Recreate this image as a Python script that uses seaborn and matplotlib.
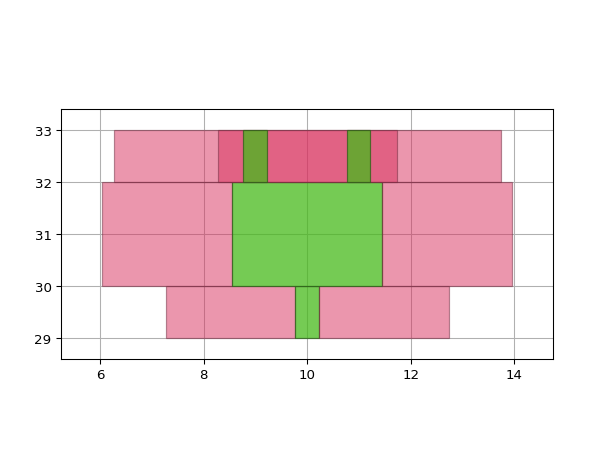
import numpy as np
import matplotlib
matplotlib.use("Agg")
import matplotlib.pyplot as plt
import seaborn as sns

# rectangles: left, width, bottom, height, kind
lefts = [7.27, 9.77, 10.23,
         6.05, 8.55, 11.45,
         6.27, 8.27, 8.77, 10.77]
widths = [2.5, 0.46, 2.5,
          2.5, 2.9, 2.5,
          7.46, 3.46, 0.45, 0.45]
bottoms = [29, 29, 29,
           30, 30, 30,
           32, 32, 32, 32]
heights = [1, 1, 1,
           2, 2, 2,
           1, 1, 1, 1]
kinds = ["pink", "green", "pink",
         "pink", "green", "pink",
         "pink", "pink", "green", "green"]

colors = {"pink": "#D92F5D", "green": "#47BA1B"}
edges = {"pink": "#6e2a3e", "green": "#2c5e18"}
alphas = {"pink": 0.5, "green": 0.75}

sns.set_style("white")
plt.rcParams["font.family"] = ["DejaVu Sans"]
plt.rcParams["xtick.direction"] = "out"
plt.rcParams["ytick.direction"] = "out"

fig = plt.figure(figsize=(6.4, 4.8), dpi=96)
ax = fig.add_axes([61 / 614, 1 - 359 / 460, 492 / 614, 249 / 460])

for l, w, b, h, k in zip(lefts, widths, bottoms, heights, kinds):
    ax.bar(l, h, width=w, bottom=b, align="edge", color=colors[k],
           alpha=alphas[k], edgecolor=edges[k], linewidth=0.9)

ax.set_xlim(5.25, 14.75)
ax.set_ylim(28.6, 33.4)
ax.set_xticks([6, 8, 10, 12, 14])
ax.set_yticks([29, 30, 31, 32, 33])
ax.set_axisbelow(True)
ax.grid(True, color="#b0b0b0", linewidth=0.8)
ax.tick_params(axis="both", labelsize=10, length=3.5, width=0.8, color="black",
               labelcolor="black", bottom=True, left=True)
for s in ax.spines.values():
    s.set_color("black")
    s.set_linewidth(0.8)

fig.savefig("out.png", dpi=96)
